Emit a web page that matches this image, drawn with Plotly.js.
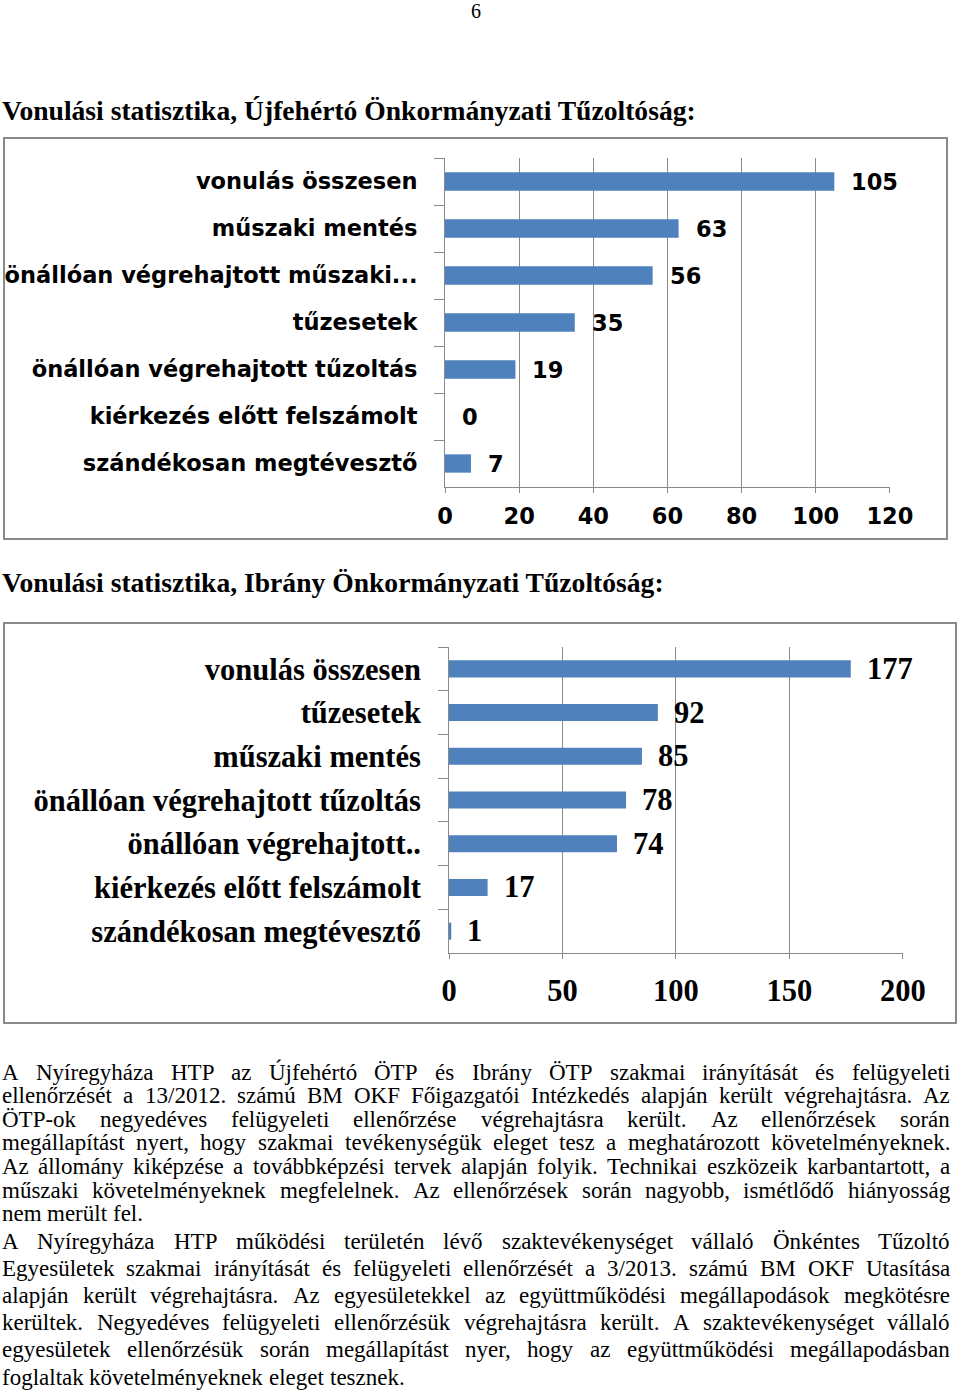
<!DOCTYPE html>
<html><head><meta charset="utf-8">
<script src="https://cdn.plot.ly/plotly-3.0.1.min.js"></script>
<style>html,body{margin:0;padding:0;background:#fff;}</style>
</head><body><div id="chart" style="width:960px;height:1391px;"></div>
<script>
// ---------- DATA ----------
const pageNumber = '6';
const title1 = 'Vonulási statisztika, Újfehértó Önkormányzati Tűzoltóság:';
const categories1 = ['vonulás összesen', 'műszaki mentés', 'önállóan végrehajtott műszaki...', 'tűzesetek',
  'önállóan végrehajtott tűzoltás', 'kiérkezés előtt felszámolt', 'szándékosan megtévesztő'];
const values1 = [105, 63, 56, 35, 19, 0, 7];
const xTicks1 = [0, 20, 40, 60, 80, 100, 120];

const title2 = 'Vonulási statisztika, Ibrány Önkormányzati Tűzoltóság:';
const categories2 = ['vonulás összesen', 'tűzesetek', 'műszaki mentés', 'önállóan végrehajtott tűzoltás',
  'önállóan végrehajtott..', 'kiérkezés előtt felszámolt', 'szándékosan megtévesztő'];
const values2 = [177, 92, 85, 78, 74, 17, 1];
const xTicks2 = [0, 50, 100, 150, 200];

const paragraph1 = [
  'A Nyíregyháza HTP az Újfehértó ÖTP és Ibrány ÖTP szakmai irányítását és felügyeleti',
  'ellenőrzését a 13/2012. számú BM OKF Főigazgatói Intézkedés alapján került végrehajtásra. Az',
  'ÖTP-ok negyedéves felügyeleti ellenőrzése végrehajtásra került. Az ellenőrzések során',
  'megállapítást nyert, hogy szakmai tevékenységük eleget tesz a meghatározott követelményeknek.',
  'Az állomány kiképzése a továbbképzési tervek alapján folyik. Technikai eszközeik karbantartott, a',
  'műszaki követelményeknek megfelelnek. Az ellenőrzések során nagyobb, ismétlődő hiányosság',
  'nem merült fel.'
];
const paragraph2 = [
  'A Nyíregyháza HTP működési területén lévő szaktevékenységet vállaló Önkéntes Tűzoltó',
  'Egyesületek szakmai irányítását és felügyeleti ellenőrzését a 3/2013. számú BM OKF Utasítása',
  'alapján került végrehajtásra. Az egyesületekkel az együttműködési megállapodások megkötésre',
  'kerültek. Negyedéves felügyeleti ellenőrzésük végrehajtásra került. A szaktevékenységet vállaló',
  'egyesületek ellenőrzésük során megállapítást nyer, hogy az együttműködési megállapodásban',
  'foglaltak követelményeknek eleget tesznek.'
];

// ---------- LAYOUT HELPERS ----------
const W = 960, H = 1391;
const px = x => x / W;
const py = y => 1 - y / H;
const cv = document.createElement('canvas');
const ctx = cv.getContext('2d');
function measure(text, font) { ctx.font = font; return ctx.measureText(text).width; }

const BLUE = '#4f81bd';
const GREY = '#8a8a8a';
const SANS = 'DejaVu Sans';
const SERIF = 'Liberation Serif';

const traces = [
  { type: 'bar', orientation: 'h', x: values1, y: categories1, xaxis: 'x', yaxis: 'y',
    marker: { color: BLUE }, hoverinfo: 'skip' },
  { type: 'bar', orientation: 'h', x: values2, y: categories2, xaxis: 'x2', yaxis: 'y2',
    marker: { color: BLUE }, hoverinfo: 'skip' }
];

const f1 = { family: SANS, size: 22.5, color: '#000', weight: 'bold' };
const f2 = { family: SERIF, size: 30.5, color: '#000', weight: 'bold' };

const annotations = [];
// data labels
values1.forEach((v, i) => annotations.push({ xref: 'x', yref: 'y', x: v, y: categories1[i], text: String(v),
  showarrow: false, xanchor: 'left', xshift: 15, font: f1 }));
values2.forEach((v, i) => annotations.push({ xref: 'x2', yref: 'y2', x: v, y: categories2[i], text: String(v),
  showarrow: false, xanchor: 'left', xshift: 14, font: f2 }));

// page number
annotations.push({ xref: 'paper', yref: 'paper', x: px(476), y: py(-1), text: pageNumber, showarrow: false,
  xanchor: 'center', yanchor: 'top', borderpad: 0, font: { family: SERIF, size: 20, color: '#000' } });

// titles
const tW = measure(title1, 'bold 100px "' + SERIF + '"');
const titleSize = Math.round(100 * 694 / tW * 10) / 10;
annotations.push({ xref: 'paper', yref: 'paper', x: px(1), y: py(110), text: title1, showarrow: false,
  xanchor: 'left', yanchor: 'middle', borderpad: 0, font: { family: SERIF, size: titleSize, color: '#000', weight: 'bold' } });
annotations.push({ xref: 'paper', yref: 'paper', x: px(1), y: py(582), text: title2, showarrow: false,
  xanchor: 'left', yanchor: 'middle', borderpad: 0, font: { family: SERIF, size: titleSize, color: '#000', weight: 'bold' } });

// justified body text
const LEFT = 1, RIGHT = 949;
let bodySize = 23;
function lineFits(size) {
  const font = size + 'px "' + SERIF + '"';
  return paragraph1.concat(paragraph2).every(l => {
    const words = l.split(' ');
    const sum = words.reduce((a, w) => a + measure(w, font), 0);
    return sum + (words.length - 1) * 3 <= RIGHT - LEFT;
  });
}
while (!lineFits(bodySize) && bodySize > 16) bodySize -= 0.25;
const bodyFont = bodySize + 'px "' + SERIF + '"';
function addParagraph(lines, y0, lh) {
  lines.forEach((line, li) => {
    const words = line.split(' ');
    const widths = words.map(w => measure(w, bodyFont));
    const isLast = li === lines.length - 1;
    const sum = widths.reduce((a, b) => a + b, 0);
    const gap = isLast ? measure(' ', bodyFont) : (RIGHT - LEFT - sum) / (words.length - 1);
    let x = LEFT;
    words.forEach((w, wi) => {
      annotations.push({ xref: 'paper', yref: 'paper', x: px(x), y: py(y0 + li * lh), text: w, showarrow: false,
        xanchor: 'left', yanchor: 'middle', borderpad: 0,
        font: { family: SERIF, size: bodySize, color: '#000' } });
      x += widths[wi] + gap;
    });
  });
}
addParagraph(paragraph1, 1072, 23.6);
addParagraph(paragraph2, 1241, 27.2);

const shapes = [
  { type: 'rect', xref: 'paper', yref: 'paper', x0: px(4), x1: px(947), y0: py(539), y1: py(138),
    line: { color: GREY, width: 2 }, fillcolor: 'rgba(0,0,0,0)' },
  { type: 'rect', xref: 'paper', yref: 'paper', x0: px(4), x1: px(956), y0: py(1023), y1: py(623),
    line: { color: GREY, width: 2 }, fillcolor: 'rgba(0,0,0,0)' }
];

const xCommon = { showgrid: true, gridcolor: GREY, gridwidth: 1, showline: true, linecolor: GREY, linewidth: 1,
  ticks: 'outside', ticklen: 5, tickcolor: GREY, zeroline: false, fixedrange: true };
const yCommon = { type: 'category', autorange: 'reversed', tickson: 'boundaries', ticks: 'outside', ticklen: 10,
  tickcolor: GREY, showline: true, linecolor: GREY, linewidth: 1, showgrid: false, zeroline: false, fixedrange: true };

const layout = {
  width: W, height: H, margin: { l: 0, r: 0, t: 0, b: 0 },
  paper_bgcolor: '#fff', plot_bgcolor: '#fff', showlegend: false, bargap: 0.61,
  xaxis: Object.assign({}, xCommon, { domain: [px(445), px(890.3)], anchor: 'y', range: [0, 120.1],
    tickmode: 'array', tickvals: xTicks1, ticktext: xTicks1.map(String), tickfont: f1, ticklabelstandoff: 4 }),
  yaxis: Object.assign({}, yCommon, { domain: [py(487), py(158)], anchor: 'x', tickfont: f1, ticklabelstandoff: 22 }),
  xaxis2: Object.assign({}, xCommon, { domain: [px(449), px(903.2)], anchor: 'y2', range: [0, 200.1],
    tickmode: 'array', tickvals: xTicks2, ticktext: xTicks2.map(String), tickfont: f2, ticklabelstandoff: 5 }),
  yaxis2: Object.assign({}, yCommon, { domain: [py(953), py(647)], anchor: 'x2', tickfont: f2, ticklabelstandoff: 21 }),
  annotations: annotations,
  shapes: shapes
};

Plotly.newPlot('chart', traces, layout, { staticPlot: true, displayModeBar: false });
</script>
</body></html>
